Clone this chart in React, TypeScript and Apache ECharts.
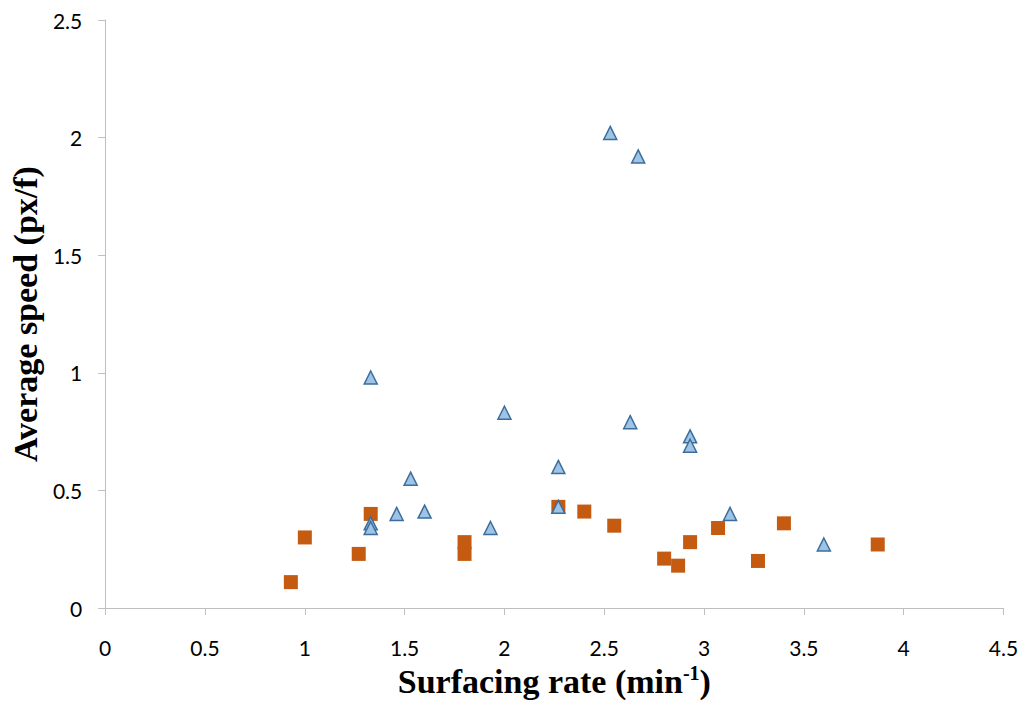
import React, { useEffect, useRef } from "react";
import * as echarts from "echarts";

// Orange squares
const squareX = [0.93, 1.0, 1.27, 1.33, 1.8, 1.8, 2.27, 2.4, 2.55, 2.8, 2.87, 2.93, 3.07, 3.27, 3.4, 3.87];
const squareY = [0.11, 0.3, 0.23, 0.4, 0.28, 0.23, 0.43, 0.41, 0.35, 0.21, 0.18, 0.28, 0.34, 0.2, 0.36, 0.27];

// Blue triangles
const triX = [1.33, 1.33, 1.33, 1.46, 1.53, 1.6, 1.93, 2.0, 2.27, 2.27, 2.53, 2.63, 2.67, 2.93, 2.93, 3.13, 3.6];
const triY = [0.98, 0.36, 0.34, 0.4, 0.55, 0.41, 0.34, 0.83, 0.6, 0.43, 2.02, 0.79, 1.92, 0.73, 0.69, 0.4, 0.27];

const xTicks = { min: 0, max: 4.5, interval: 0.5 };
const yTicks = { min: 0, max: 2.5, interval: 0.5 };

const xTitle = "Surfacing rate (min";
const xTitleSup = "-1";
const yTitle = "Average speed (px/f)";

export default function App() {
  const ref = useRef<HTMLDivElement>(null);

  useEffect(() => {
    if (!ref.current) return;
    const chart = echarts.init(ref.current, undefined, { renderer: "svg" });
    const labelStyle = { color: "#000", fontFamily: "Lato", fontSize: 21 };
    const axisLine = { show: true, lineStyle: { color: "#bfbfbf", width: 1 } };
    const axisTick = { show: true, inside: false, length: 7, lineStyle: { color: "#bfbfbf" } };
    const titleFont = { fontFamily: "Liberation Serif", fontWeight: "bold" as const, fontSize: 34, color: "#000" };

    chart.setOption({
      animation: false,
      backgroundColor: "#fff",
      grid: { left: 104.5, right: 20.5, top: 20, bottom: 94.5, containLabel: false },
      xAxis: {
        type: "value",
        min: xTicks.min,
        max: xTicks.max,
        interval: xTicks.interval,
        axisLine,
        axisTick,
        splitLine: { show: false },
        axisLabel: { ...labelStyle, margin: 29 },
        name: `{a|${xTitle}}{s|${xTitleSup}}{a|)}`,
        nameLocation: "middle",
        nameGap: 55,
        nameTextStyle: {
          rich: {
            a: { ...titleFont },
            s: { ...titleFont, fontSize: 20, verticalAlign: "top", padding: [0, 0, 16, 0] },
          },
        },
      },
      yAxis: {
        type: "value",
        min: yTicks.min,
        max: yTicks.max,
        interval: yTicks.interval,
        axisLine,
        axisTick,
        splitLine: { show: false },
        axisLabel: { ...labelStyle, margin: 23 },
        name: yTitle,
        nameLocation: "middle",
        nameGap: 57,
        nameTextStyle: { ...titleFont },
      },
      series: [
        {
          type: "scatter",
          symbol: "rect",
          symbolSize: 14,
          data: squareX.map((x, i) => [x, squareY[i]]),
          itemStyle: { color: "#C55A11", opacity: 1 },
        },
        {
          type: "scatter",
          symbol: "triangle",
          symbolSize: 13,
          data: triX.map((x, i) => [x, triY[i]]),
          itemStyle: { color: "#9DC3E6", borderColor: "#3D6D9A", borderWidth: 1.5, opacity: 1 },
        },
      ],
    });
    return () => chart.dispose();
  }, []);

  return (
    <div
      ref={ref}
      style={{ position: "fixed", left: 0, top: 0, width: 1024, height: 703, background: "#fff" }}
    />
  );
}
